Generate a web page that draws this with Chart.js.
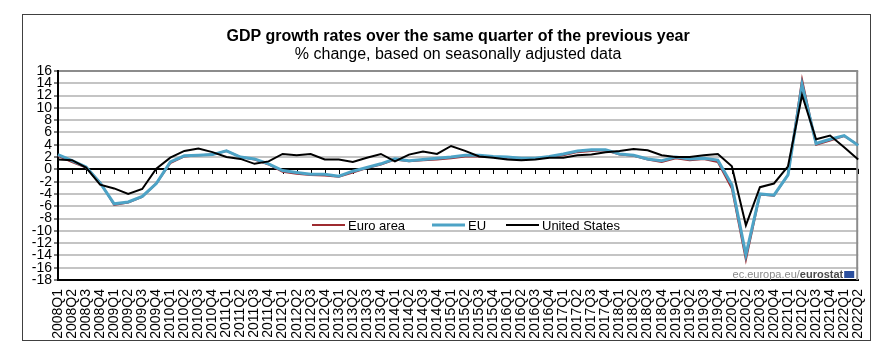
<!DOCTYPE html>
<html><head><meta charset="utf-8">
<script src="https://cdn.jsdelivr.net/npm/chart.js@4/dist/chart.umd.min.js"></script>
<style>
html,body{margin:0;padding:0;background:#fff;}
#wrap{position:relative;width:884px;height:351px;overflow:hidden;}
#frame{position:absolute;left:22px;top:14px;width:849px;height:327px;border:1px solid #404040;box-sizing:border-box;}
canvas{position:absolute;left:0;top:0;}
</style></head><body>
<div id="wrap"><div id="frame"></div><canvas id="c" width="884" height="351"></canvas></div>
<script>
const quarters = [
 "2008Q1","2008Q2","2008Q3","2008Q4","2009Q1","2009Q2","2009Q3","2009Q4",
 "2010Q1","2010Q2","2010Q3","2010Q4","2011Q1","2011Q2","2011Q3","2011Q4",
 "2012Q1","2012Q2","2012Q3","2012Q4","2013Q1","2013Q2","2013Q3","2013Q4",
 "2014Q1","2014Q2","2014Q3","2014Q4","2015Q1","2015Q2","2015Q3","2015Q4",
 "2016Q1","2016Q2","2016Q3","2016Q4","2017Q1","2017Q2","2017Q3","2017Q4",
 "2018Q1","2018Q2","2018Q3","2018Q4","2019Q1","2019Q2","2019Q3","2019Q4",
 "2020Q1","2020Q2","2020Q3","2020Q4","2021Q1","2021Q2","2021Q3","2021Q4",
 "2022Q1","2022Q2"];

const euroArea = [
 2.2, 1.2, 0.3, -2.1, -5.8, -5.4, -4.5, -2.3,
 1.0, 2.1, 2.3, 2.4, 3.0, 2.0, 1.6, 0.8,
 -0.4, -0.7, -0.9, -1.0, -1.2, -0.5, 0.2, 0.8,
 1.6, 1.3, 1.5, 1.6, 1.8, 2.1, 2.1, 2.0,
 1.8, 1.7, 1.7, 2.0, 2.3, 2.8, 3.0, 3.1,
 2.4, 2.2, 1.6, 1.2, 1.8, 1.5, 1.7, 1.2,
 -3.1, -14.7, -4.1, -4.3, -0.9, 14.6, 4.0, 4.7,
 5.4, 4.0];

const eu = [
 2.4, 1.4, 0.4, -2.2, -5.6, -5.3, -4.4, -2.3,
 1.2, 2.2, 2.3, 2.4, 3.0, 2.0, 1.7, 0.9,
 -0.2, -0.5, -0.8, -0.8, -1.1, -0.3, 0.3, 0.9,
 1.7, 1.4, 1.6, 1.8, 2.0, 2.3, 2.3, 2.1,
 2.0, 1.8, 1.8, 2.1, 2.5, 3.0, 3.2, 3.2,
 2.5, 2.3, 1.7, 1.4, 2.0, 1.7, 1.8, 1.5,
 -2.5, -13.9, -4.0, -4.2, -0.9, 13.8, 4.2, 4.9,
 5.5, 3.9];

const unitedStates = [
 1.6, 1.5, 0.3, -2.5, -3.1, -4.0, -3.2, 0.1,
 1.9, 3.0, 3.4, 2.8, 2.0, 1.7, 0.9, 1.3,
 2.5, 2.3, 2.5, 1.6, 1.6, 1.2, 1.9, 2.5,
 1.3, 2.4, 2.9, 2.5, 3.8, 3.0, 2.1, 1.9,
 1.6, 1.5, 1.6, 1.9, 1.9, 2.3, 2.4, 2.8,
 3.0, 3.3, 3.1, 2.3, 2.0, 2.0, 2.3, 2.5,
 0.5, -9.1, -2.9, -2.3, 0.5, 12.1, 4.9, 5.5,
 3.6, 1.6];

const seriesNames = ["Euro area", "EU", "United States"];
const titleText = "GDP growth rates over the same quarter of the previous year";
const subtitleText = "% change, based on seasonally adjusted data";
const yMin = -18, yMax = 16, yStep = 2;

const FONT = "'Liberation Sans', Arial, sans-serif";

const decor = {
  id: 'decor',
  beforeDatasetsDraw(chart) {
    const {ctx, chartArea: a, scales: {x, y}} = chart;
    ctx.save();
    ctx.strokeStyle = '#8c8c8c';
    ctx.lineWidth = 2;
    ctx.beginPath();
    ctx.moveTo(a.right - 1, a.top);
    ctx.lineTo(a.right - 1, a.bottom);
    ctx.stroke();
    const y0 = Math.round(y.getPixelForValue(0));
    ctx.strokeStyle = '#000';
    ctx.lineWidth = 1;
    ctx.beginPath();
    for (let i = 0; i < quarters.length; i++) {
      const px = Math.round(x.getPixelForValue(i)) + 0.5;
      ctx.moveTo(px, y0);
      ctx.lineTo(px, y0 + 5);
    }
    ctx.stroke();
    ctx.restore();
  },
  afterDraw(chart) {
    const {ctx, chartArea: a} = chart;
    const cx = (a.left + a.right) / 2;
    ctx.save();
    ctx.fillStyle = '#000';
    ctx.textAlign = 'center';
    ctx.textBaseline = 'middle';
    ctx.font = 'bold 16px ' + FONT;
    ctx.fillText(titleText, cx, 37);
    ctx.font = '16px ' + FONT;
    ctx.fillText(subtitleText, cx, 55);

    const starts = [312, 432, 506];
    const ly = 225;
    ctx.font = '13px ' + FONT;
    ctx.textAlign = 'left';
    chart.data.datasets.forEach((ds, i) => {
      const sx = starts[i];
      ctx.strokeStyle = ds.borderColor;
      ctx.lineWidth = ds.borderWidth;
      ctx.beginPath();
      ctx.moveTo(sx, ly);
      ctx.lineTo(sx + 33, ly);
      ctx.stroke();
      ctx.fillStyle = '#000';
      ctx.fillText(ds.label, sx + 36, ly + 1);
    });

    const ey = 275;
    const ex = a.right - 15;
    ctx.textAlign = 'right';
    ctx.font = 'bold 11px ' + FONT;
    ctx.fillStyle = '#4a4a4a';
    ctx.fillText('eurostat', ex, ey);
    const w = ctx.measureText('eurostat').width;
    ctx.font = '11px ' + FONT;
    ctx.fillStyle = '#8a8a8a';
    ctx.fillText('ec.europa.eu/', ex - w, ey);
    ctx.fillStyle = '#2b4f9e';
    ctx.fillRect(ex + 1, ey - 4, 10, 7);
    ctx.restore();
  }
};

new Chart(document.getElementById('c'), {
  type: 'line',
  data: {
    labels: quarters,
    datasets: [
      {label: seriesNames[0], data: euroArea, borderColor: '#9e2b30', borderWidth: 2, pointRadius: 0, order: 3, tension: 0},
      {label: seriesNames[1], data: eu, borderColor: '#4da3c6', borderWidth: 3, pointRadius: 0, order: 2, tension: 0},
      {label: seriesNames[2], data: unitedStates, borderColor: '#000000', borderWidth: 2, pointRadius: 0, order: 1, tension: 0}
    ]
  },
  options: {
    responsive: false,
    animation: false,
    devicePixelRatio: 1,
    layout: {padding: {left: 22, right: 24, top: 71, bottom: 0}},
    plugins: {legend: {display: false}, tooltip: {enabled: false}, title: {display: false}},
    scales: {
      x: {
        type: 'category',
        offset: false,
        grid: {display: false, drawTicks: false},
        border: {display: true, color: '#000', width: 2},
        ticks: {autoSkip: false, minRotation: 90, maxRotation: 90, padding: 9,
                color: '#000', font: {family: FONT, size: 14}},
        afterFit: s => { s.height = 71; }
      },
      y: {
        min: yMin, max: yMax,
        ticks: {stepSize: yStep, autoSkip: false, padding: 2, color: '#000', font: {family: FONT, size: 14}},
        grid: {
          color: c => (c.tick && c.tick.value === 0) ? '#000' : ((c.tick && c.tick.value === yMax) ? '#8c8c8c' : '#c4c4c4'),
          lineWidth: 2, tickLength: 4, tickColor: '#000', tickWidth: 1
        },
        border: {display: true, color: '#000', width: 2},
        afterFit: s => { s.width = 36; }
      }
    }
  },
  plugins: [decor]
});
</script>
</body></html>
